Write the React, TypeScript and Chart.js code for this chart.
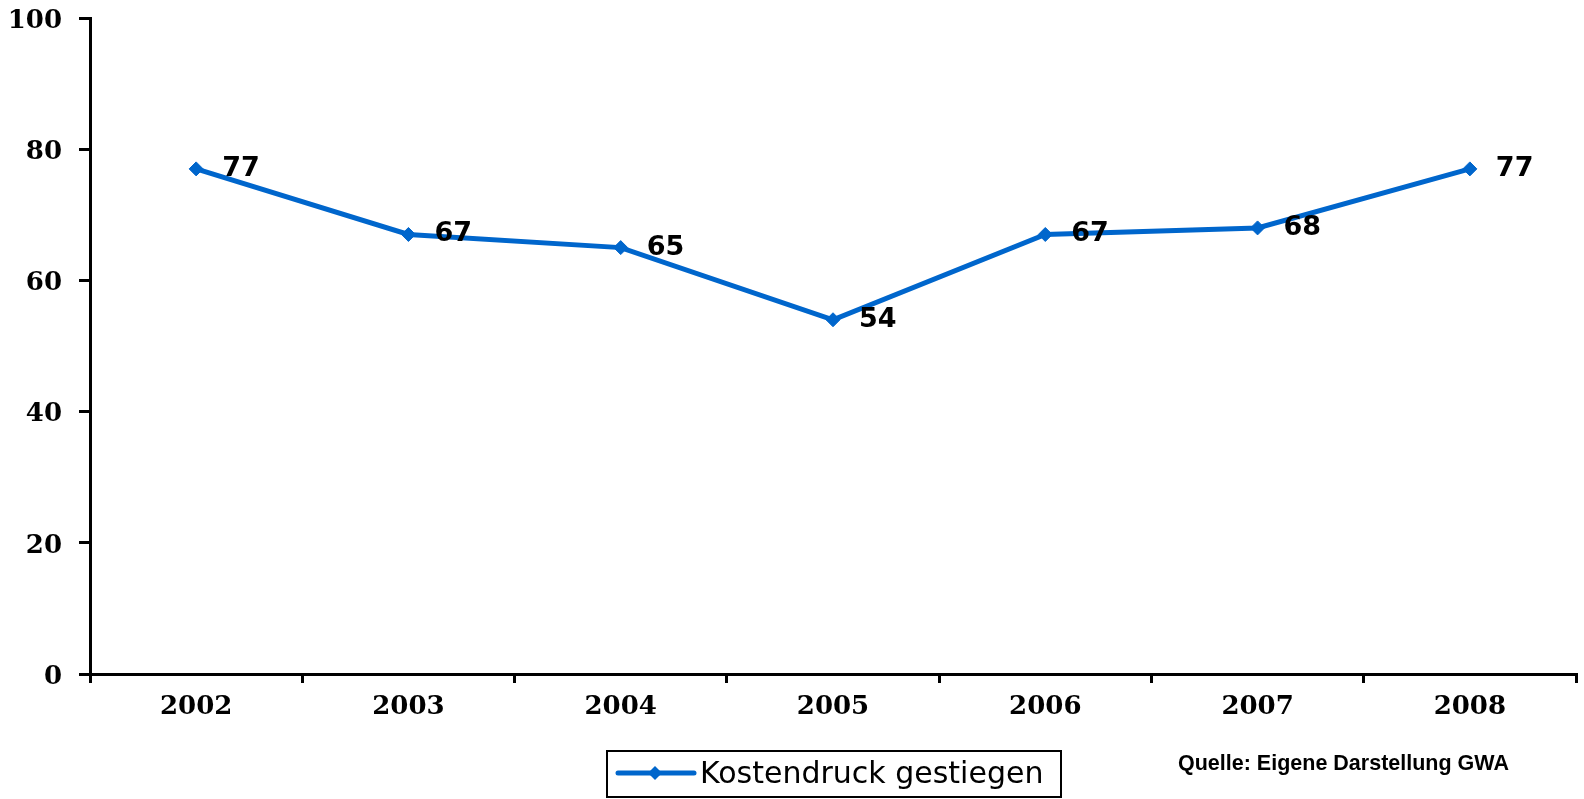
import React, { useEffect, useRef } from "react";
import { Chart, registerables } from "chart.js";

Chart.register(...registerables);

const categories = ["2002", "2003", "2004", "2005", "2006", "2007", "2008"];
const seriesLabel = "Kostendruck gestiegen";
const seriesValues = [77, 67, 65, 54, 67, 68, 77];
const yMin = 0;
const yMax = 100;
const yStep = 20;
const sourceText = "Quelle: Eigene Darstellung GWA";

const BLUE = "rgb(0,102,204)";

const overlayPlugin = {
  id: "overlay",
  afterDatasetsDraw(chart: any) {
    const ctx = chart.ctx;
    const meta = chart.getDatasetMeta(0);
    ctx.save();
    ctx.fillStyle = "#000";
    ctx.font = "bold 27px 'DejaVu Sans'";
    ctx.textAlign = "left";
    ctx.textBaseline = "middle";
    meta.data.forEach((pt: any, i: number) => {
      const v = chart.data.datasets[0].data[i];
      ctx.fillText(String(v), pt.x + 26, pt.y);
    });
    ctx.restore();
  },
  afterDraw(chart: any) {
    const ctx = chart.ctx;
    ctx.save();
    // legend box
    const bx = 607, by = 751, bw = 454, bh = 46;
    ctx.strokeStyle = "#000";
    ctx.lineWidth = 2;
    ctx.strokeRect(bx, by, bw, bh);
    const ly = 773;
    ctx.strokeStyle = BLUE;
    ctx.lineWidth = 5;
    ctx.lineCap = "round";
    ctx.beginPath();
    ctx.moveTo(618, ly);
    ctx.lineTo(694, ly);
    ctx.stroke();
    ctx.fillStyle = BLUE;
    ctx.beginPath();
    ctx.moveTo(655, ly - 7);
    ctx.lineTo(662, ly);
    ctx.lineTo(655, ly + 7);
    ctx.lineTo(648, ly);
    ctx.closePath();
    ctx.fill();
    ctx.fillStyle = "#000";
    ctx.font = "30px 'DejaVu Sans'";
    ctx.textAlign = "left";
    ctx.textBaseline = "middle";
    ctx.fillText(chart.data.datasets[0].label, 700, 775);
    // source
    ctx.font = "bold 21.5px 'Liberation Sans'";
    ctx.fillText(sourceText, 1178, 764);
    ctx.restore();
  },
};

export default function App() {
  const ref = useRef<HTMLCanvasElement | null>(null);
  useEffect(() => {
    if (!ref.current) return;
    const chart = new Chart(ref.current, {
      type: "line",
      data: {
        labels: categories,
        datasets: [
          {
            label: seriesLabel,
            data: seriesValues,
            borderColor: BLUE,
            backgroundColor: BLUE,
            borderWidth: 5,
            pointStyle: "rectRot",
            pointRadius: 7,
            pointBackgroundColor: BLUE,
            pointBorderColor: BLUE,
            pointBorderWidth: 1,
            tension: 0,
            clip: false as any,
          },
        ],
      },
      options: {
        animation: false,
        responsive: true,
        maintainAspectRatio: false,
        layout: { padding: { left: 0, top: 18, right: 5, bottom: 0 } },
        plugins: {
          legend: { display: false },
          tooltip: { enabled: false },
        },
        scales: {
          x: {
            offset: true,
            grid: {
              offset: true,
              drawOnChartArea: false,
              drawTicks: true,
              tickLength: 9,
              color: "#000",
              lineWidth: 3,
            },
            border: { display: true, color: "#000", width: 3 },
            ticks: {
              color: "#000",
              font: { family: "DejaVu Serif", weight: "bold", size: 26 },
              padding: 9,
              maxRotation: 0,
            },
            afterFit: (scale: any) => {
              scale.height = 125;
              scale.paddingLeft = 0;
              scale.paddingRight = 0;
            },
          },
          y: {
            min: yMin,
            max: yMax,
            grid: {
              drawOnChartArea: false,
              drawTicks: true,
              tickLength: 11,
              color: "#000",
              lineWidth: 3,
            },
            border: { display: true, color: "#000", width: 3 },
            ticks: {
              stepSize: yStep,
              color: "#000",
              font: { family: "DejaVu Serif", weight: "bold", size: 26 },
              padding: 17,
              labelOffset: 3,
            },
            afterFit: (scale: any) => {
              scale.width = 90;
              scale.paddingTop = 0;
              scale.paddingBottom = 0;
            },
          },
        },
      },
      plugins: [overlayPlugin],
    });
    return () => chart.destroy();
  }, []);
  return (
    <div
      style={{
        position: "absolute",
        left: 0,
        top: 0,
        width: "1584px",
        height: "799px",
        background: "#fff",
      }}
    >
      <canvas ref={ref} />
    </div>
  );
}
